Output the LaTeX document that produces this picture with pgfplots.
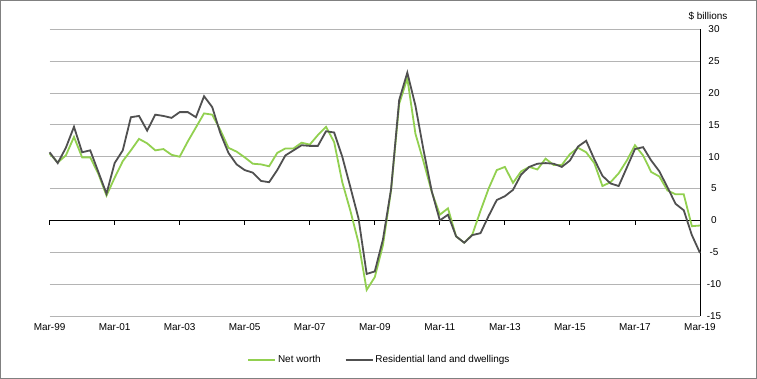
\documentclass[border=0pt]{standalone}
\usepackage{pgfplots}
\pgfplotsset{compat=1.18}
\usepackage{pgfplotstable}
\usepackage{fontspec}
\setmainfont{Liberation Sans}
\definecolor{nwgreen}{RGB}{146,208,80}
\definecolor{resgrey}{RGB}{80,80,80}
\definecolor{gridgrey}{RGB}{180,180,180}
\pgfplotstableread{
q dark green
0 10.7 10.5
1 9.0 9.1
2 11.4 10.2
3 14.7 13.1
4 10.7 9.9
5 11.0 9.9
6 7.6 7.3
7 4.2 3.9
8 9.0 6.7
9 11.0 9.3
10 16.2 11.0
11 16.4 12.8
12 14.1 12.1
13 16.6 11.0
14 16.4 11.2
15 16.1 10.3
16 17.0 10.0
17 17.0 12.4
18 16.2 14.6
19 19.5 16.8
20 17.8 16.6
21 13.7 14.2
22 10.6 11.4
23 8.8 10.8
24 7.9 9.9
25 7.5 8.9
26 6.2 8.8
27 6.0 8.5
28 7.9 10.6
29 10.2 11.3
30 11.0 11.3
31 11.8 12.2
32 11.7 11.9
33 11.7 13.4
34 14.0 14.7
35 13.8 12.3
36 10.0 6.0
37 5.2 1.5
38 0.3 -3.5
39 -8.4 -10.9
40 -8.0 -8.9
41 -3.0 -3.9
42 4.9 4.7
43 18.9 18.3
44 23.2 22.3
45 18.0 13.6
46 11.0 9.2
47 4.6 4.5
48 0.0 0.9
49 0.9 1.9
50 -2.5 -2.5
51 -3.5 -3.5
52 -2.3 -2.2
53 -2.0 1.5
54 0.7 5.0
55 3.2 7.9
56 3.8 8.4
57 4.8 5.9
58 7.2 7.7
59 8.4 8.4
60 8.9 8.0
61 9.0 9.7
62 8.9 8.7
63 8.4 8.7
64 9.4 10.4
65 11.6 11.4
66 12.5 10.7
67 9.6 9.0
68 7.0 5.4
69 5.8 6.0
70 5.4 7.4
71 8.3 9.4
72 11.2 11.8
73 11.5 10.2
74 9.4 7.6
75 7.7 6.9
76 5.2 4.7
77 2.6 4.1
78 1.6 4.1
79 -2.3 -0.9
80 -5.1 -0.8
}\datatable
\begin{document}
\begin{tikzpicture}
\begin{axis}[
  scale only axis,
  width=650.4bp, height=286.7bp,
  xmin=0, xmax=80, ymin=-15, ymax=30,
  enlargelimits=false,
  axis line style={draw=none},
  major tick length=0pt,
  xtick={0,8,...,80},
  xticklabels={Mar-99,Mar-01,Mar-03,Mar-05,Mar-07,Mar-09,Mar-11,Mar-13,Mar-15,Mar-17,Mar-19},
  ytick={-15,-10,...,30},
  yticklabels={-15,-10,-5,0,5,10,15,20,25,30},
  yticklabel pos=right,
  ymajorgrids,
  grid style={gridgrey, line width=0.8bp},
  tick label style={font=\fontsize{10}{12}\selectfont},
  xticklabel style={anchor=center, yshift=-11bp},
  yticklabel style={anchor=center, xshift=14bp},
  legend columns=2,
  legend style={at={(0.507,-0.1535)}, anchor=center, draw=none, fill=none,
    font=\fontsize{10}{12}\selectfont,
    /tikz/every even column/.append style={column sep=22bp}},
  legend image code/.code={\draw[#1] (0bp,0bp) -- (27bp,0bp);},
  clip=false,
]
\draw[black, line width=0.9bp] (axis cs:0,0) -- (axis cs:80,0);
\draw[black, line width=0.9bp] (axis cs:80,-15) -- (axis cs:80,30);
\pgfplotsinvokeforeach{0,8,...,80}{\draw[black, line width=0.9bp] (axis cs:#1,0) -- ([yshift=-5bp]axis cs:#1,0);}
\addplot[nwgreen, line width=1.8bp] table[x=q, y=green] {\datatable};
\addlegendentry{Net worth}
\addplot[resgrey, line width=1.8bp] table[x=q, y=dark] {\datatable};
\addlegendentry{Residential land and dwellings}
\node[font=\fontsize{10}{12}\selectfont] at (rel axis cs:1.0123,1.0464) {\$ billions};
\end{axis}
\draw[gray, line width=1bp] (-49.1bp,-62.5bp) rectangle (706.9bp,315.5bp);
\end{tikzpicture}
\end{document}
